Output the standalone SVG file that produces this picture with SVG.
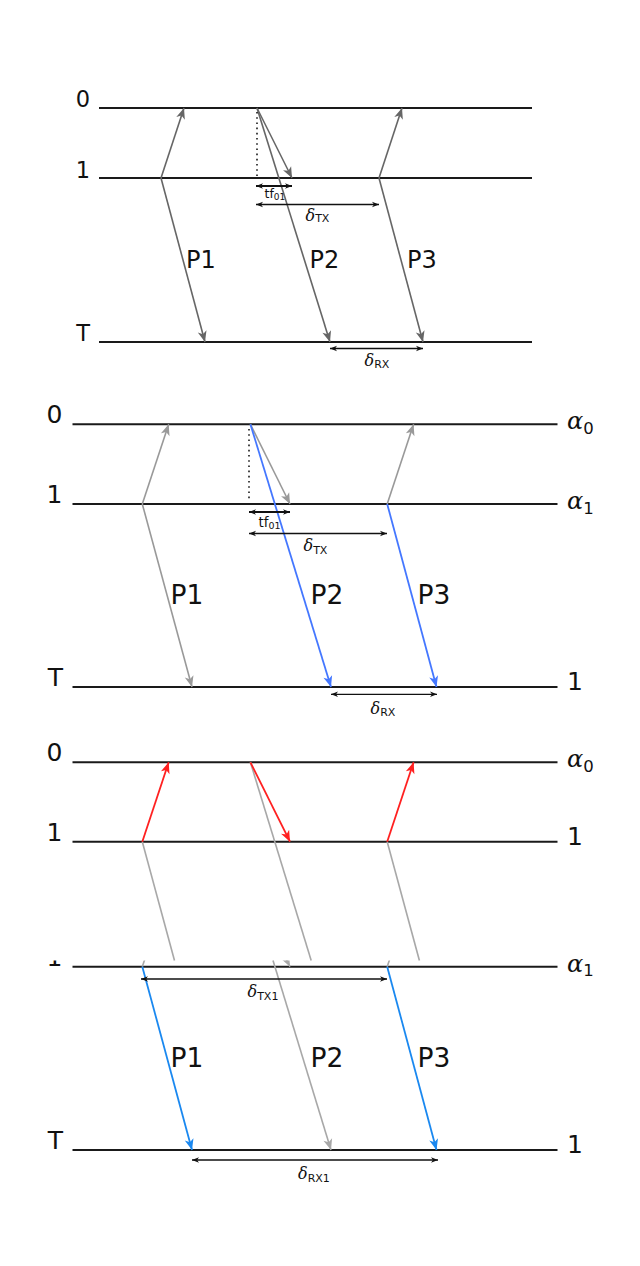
<svg xmlns="http://www.w3.org/2000/svg" width="640" height="1266" viewBox="0 0 640 1266">
<style>
.bg{fill:#ffffff}
.lane{stroke:#1a1a1a;stroke-width:2;fill:none}
.g6{stroke:#666666;stroke-width:1.6;fill:none}
.g9{stroke:#999999;stroke-width:1.6;fill:none}
.ga{stroke:#a8a8a8;stroke-width:1.6;fill:none}
.bl{stroke:#4477ff;stroke-width:1.8;fill:none}
.bl2{stroke:#1a88f0;stroke-width:1.8;fill:none}
.rd{stroke:#ff2020;stroke-width:1.8;fill:none}
.dot{stroke:#1a1a1a;stroke-width:1.6;stroke-dasharray:1.6 3.6;fill:none}
.dim{stroke:#111111;stroke-width:1.3;fill:none;marker-start:url(#dm);marker-end:url(#dm)}
.dimb{stroke:#111111;stroke-width:1.9;fill:none;marker-start:url(#dm);marker-end:url(#dm)}
text{fill:#111111}
.lt{font-family:"DejaVu Sans","Liberation Sans",sans-serif;font-size:22.5px;text-anchor:middle}
.lm{font-family:"DejaVu Sans","Liberation Sans",sans-serif;font-size:25px;text-anchor:middle}
.pt{font-family:"DejaVu Sans","Liberation Sans",sans-serif;font-size:24px}
.pm{font-family:"DejaVu Sans","Liberation Sans",sans-serif;font-size:26.5px}
.gr{font-family:"DejaVu Serif","Liberation Serif",serif;font-style:italic}
.sb{font-family:"DejaVu Sans","Liberation Sans",sans-serif;font-style:normal}
.tf{font-family:"DejaVu Sans","Liberation Sans",sans-serif}
</style>
<defs>
<marker id="a6" viewBox="-12 -5 12 10" refX="0" refY="0" markerWidth="12" markerHeight="10" markerUnits="userSpaceOnUse" orient="auto"><path d="M0,0 L-11,-4.5 L-8,0 L-11,4.5 Z" fill="#666666"/></marker>
<marker id="a9" viewBox="-12 -5 12 10" refX="0" refY="0" markerWidth="12" markerHeight="10" markerUnits="userSpaceOnUse" orient="auto"><path d="M0,0 L-11,-4.5 L-8,0 L-11,4.5 Z" fill="#999999"/></marker>
<marker id="aa" viewBox="-12 -5 12 10" refX="0" refY="0" markerWidth="12" markerHeight="10" markerUnits="userSpaceOnUse" orient="auto"><path d="M0,0 L-11,-4.5 L-8,0 L-11,4.5 Z" fill="#a8a8a8"/></marker>
<marker id="ab" viewBox="-12 -5 12 10" refX="0" refY="0" markerWidth="12" markerHeight="10" markerUnits="userSpaceOnUse" orient="auto"><path d="M0,0 L-11,-4.5 L-8,0 L-11,4.5 Z" fill="#4477ff"/></marker>
<marker id="ab2" viewBox="-12 -5 12 10" refX="0" refY="0" markerWidth="12" markerHeight="10" markerUnits="userSpaceOnUse" orient="auto"><path d="M0,0 L-11,-4.5 L-8,0 L-11,4.5 Z" fill="#1a88f0"/></marker>
<marker id="ar" viewBox="-12 -5 12 10" refX="0" refY="0" markerWidth="12" markerHeight="10" markerUnits="userSpaceOnUse" orient="auto"><path d="M0,0 L-11,-4.5 L-8,0 L-11,4.5 Z" fill="#ff2020"/></marker>
<marker id="dm" viewBox="-8 -4 8 8" refX="0" refY="0" markerWidth="8" markerHeight="8" markerUnits="userSpaceOnUse" orient="auto-start-reverse"><path d="M0,0 L-7,-2.8 L-5,0 L-7,2.8 Z" fill="#111111"/></marker>
<clipPath id="lower"><rect x="0" y="960.5" width="640" height="306"/></clipPath>
</defs>
<rect class="bg" x="0" y="0" width="640" height="1266"/>

<!-- ===== TOP PANEL ===== -->
<g id="top-panel">
  <g id="top-lanes">
    <line class="lane" x1="99" y1="108" x2="532" y2="108"/>
    <line class="lane" x1="99" y1="178" x2="532" y2="178"/>
    <line class="lane" x1="99" y1="342" x2="532" y2="342"/>
    <text class="lt" x="83" y="107">0</text>
    <text class="lt" x="83" y="177.5">1</text>
    <text class="lt" x="83" y="341">T</text>
  </g>
  <g id="top-connectors">
    <line class="g6" x1="161" y1="178" x2="184" y2="108" marker-end="url(#a6)"/>
    <line class="g6" x1="161" y1="178" x2="205" y2="342" marker-end="url(#a6)"/>
    <line class="g6" x1="257" y1="108" x2="292" y2="178" marker-end="url(#a6)"/>
    <line class="g6" x1="257" y1="108" x2="330" y2="342" marker-end="url(#a6)"/>
    <line class="g6" x1="379" y1="178" x2="402" y2="108" marker-end="url(#a6)"/>
    <line class="g6" x1="379" y1="178" x2="423" y2="342" marker-end="url(#a6)"/>
    <line class="dot" x1="257" y1="112" x2="257" y2="176"/>
    <line class="dimb" x1="256" y1="186" x2="292" y2="186"/>
    <line class="dim" x1="256" y1="204.5" x2="379" y2="204.5"/>
    <line class="dim" x1="330" y1="348.5" x2="423" y2="348.5"/>
  </g>
  <g id="top-labels">
    <text class="pt" x="186" y="268.3">P1</text>
    <text class="pt" x="309.5" y="268.3">P2</text>
    <text class="pt" x="407" y="268.3">P3</text>
    <text class="tf" x="264.5" y="198" font-size="12.5">tf<tspan font-size="9" dy="2">01</tspan></text>
    <text class="gr" x="305.5" y="220.5" font-size="16">δ<tspan class="sb" font-size="11" dy="1.5">TX</tspan></text>
    <text class="gr" x="364.5" y="366" font-size="16">δ<tspan class="sb" font-size="11" dy="1.5">RX</tspan></text>
  </g>
</g>

<!-- ===== MIDDLE PANEL ===== -->
<g id="middle-panel">
  <g id="mid-lanes">
    <line class="lane" x1="72.5" y1="424.3" x2="557.5" y2="424.3"/>
    <line class="lane" x1="72.5" y1="504" x2="557.5" y2="504"/>
    <line class="lane" x1="72.5" y1="687" x2="557.5" y2="687"/>
    <text class="lm" x="54.5" y="423">0</text>
    <text class="lm" x="54.5" y="503">1</text>
    <text class="lm" x="55.5" y="686">T</text>
    <text class="gr" x="567" y="429" font-size="24">α<tspan class="sb" font-size="16.5" dy="5">0</tspan></text>
    <text class="gr" x="567" y="509" font-size="24">α<tspan class="sb" font-size="16.5" dy="4.5">1</tspan></text>
    <text class="lm" x="575" y="690">1</text>
  </g>
  <g id="mid-connectors">
    <line class="g9" x1="142.3" y1="504" x2="168.7" y2="424.3" marker-end="url(#a9)"/>
    <line class="g9" x1="142.3" y1="504" x2="192" y2="687" marker-end="url(#a9)"/>
    <line class="g9" x1="250.4" y1="424.3" x2="290" y2="504" marker-end="url(#a9)"/>
    <line class="g9" x1="387.2" y1="504" x2="413.6" y2="424.3" marker-end="url(#a9)"/>
    <line class="bl" x1="250.4" y1="424.3" x2="331" y2="687" marker-end="url(#ab)"/>
    <line class="bl" x1="387.2" y1="504" x2="436.5" y2="687" marker-end="url(#ab)"/>
    <line class="dot" x1="249" y1="429" x2="249" y2="501"/>
    <line class="dimb" x1="249" y1="512" x2="290" y2="512"/>
    <line class="dim" x1="249" y1="533.5" x2="387" y2="533.5"/>
    <line class="dim" x1="331" y1="694.3" x2="437" y2="694.3"/>
  </g>
  <g id="mid-labels">
    <text class="pm" x="170.5" y="603.5">P1</text>
    <text class="pm" x="310.5" y="603.5">P2</text>
    <text class="pm" x="417.5" y="603.5">P3</text>
    <text class="tf" x="258.5" y="526.5" font-size="13.5">tf<tspan font-size="9.5" dy="2">01</tspan></text>
    <text class="gr" x="303.5" y="550.5" font-size="16">δ<tspan class="sb" font-size="11" dy="3">TX</tspan></text>
    <text class="gr" x="370.5" y="713.5" font-size="16">δ<tspan class="sb" font-size="11" dy="2.5">RX</tspan></text>
  </g>
</g>

<!-- ===== BOTTOM PANEL (upper part) ===== -->
<g id="bottom-upper">
  <g id="bu-lanes">
    <line class="lane" x1="72.5" y1="762.3" x2="557.5" y2="762.3"/>
    <line class="lane" x1="72.5" y1="841.7" x2="557.5" y2="841.7"/>
    <text class="lm" x="54.5" y="761">0</text>
    <text class="lm" x="54.5" y="840.5">1</text>
    <text class="gr" x="567" y="767" font-size="24">α<tspan class="sb" font-size="16.5" dy="5">0</tspan></text>
    <text class="lm" x="575" y="845">1</text>
  </g>
  <g id="bu-connectors">
    <line class="ga" x1="142.3" y1="841.7" x2="174.5" y2="960.5"/>
    <line class="ga" x1="250.4" y1="762.3" x2="311.2" y2="960.5"/>
    <line class="ga" x1="387.2" y1="841.7" x2="419.4" y2="960.5"/>
    <line class="rd" x1="142.3" y1="841.7" x2="168.7" y2="762.3" marker-end="url(#ar)"/>
    <line class="rd" x1="250.4" y1="762.3" x2="290" y2="841.7" marker-end="url(#ar)"/>
    <line class="rd" x1="387.2" y1="841.7" x2="413.6" y2="762.3" marker-end="url(#ar)"/>
  </g>
</g>

<!-- ===== BOTTOM PANEL (lower part) ===== -->
<g id="bottom-lower">
  <g id="bl-lanes">
    <line class="lane" x1="72.5" y1="966.7" x2="557.5" y2="966.7"/>
    <line class="lane" x1="72.5" y1="1150" x2="557.5" y2="1150"/>
    <text class="lm" x="54.5" y="965.5" clip-path="url(#lower)">1</text>
    <text class="lm" x="55.5" y="1149">T</text>
    <text class="gr" x="567" y="971.7" font-size="24">α<tspan class="sb" font-size="16.5" dy="4.5">1</tspan></text>
    <text class="lm" x="575" y="1153">1</text>
  </g>
  <g id="bl-connectors">
    <g clip-path="url(#lower)">
      <line class="ga" x1="142.3" y1="966.7" x2="168.7" y2="887"/>
      <line class="ga" x1="387.2" y1="966.7" x2="413.6" y2="887"/>
      <line class="ga" x1="250.4" y1="887" x2="290" y2="966.7" marker-end="url(#aa)"/>
    </g>
    <line class="ga" x1="273" y1="960.5" x2="331" y2="1150" marker-end="url(#aa)"/>
    <line class="bl2" x1="142.3" y1="966.7" x2="192" y2="1150" marker-end="url(#ab2)"/>
    <line class="bl2" x1="387.2" y1="966.7" x2="436.5" y2="1150" marker-end="url(#ab2)"/>
    <line class="dim" x1="141" y1="979" x2="387" y2="979"/>
    <line class="dim" x1="192" y1="1160" x2="438" y2="1160"/>
  </g>
  <g id="bl-labels">
    <text class="pm" x="170.5" y="1066.5">P1</text>
    <text class="pm" x="310.5" y="1066.5">P2</text>
    <text class="pm" x="417.5" y="1066.5">P3</text>
    <text class="gr" x="247.5" y="996.5" font-size="16">δ<tspan class="sb" font-size="11" dy="3.5">TX1</tspan></text>
    <text class="gr" x="298" y="1178.5" font-size="16">δ<tspan class="sb" font-size="11" dy="3.5">RX1</tspan></text>
  </g>
</g>
</svg>
